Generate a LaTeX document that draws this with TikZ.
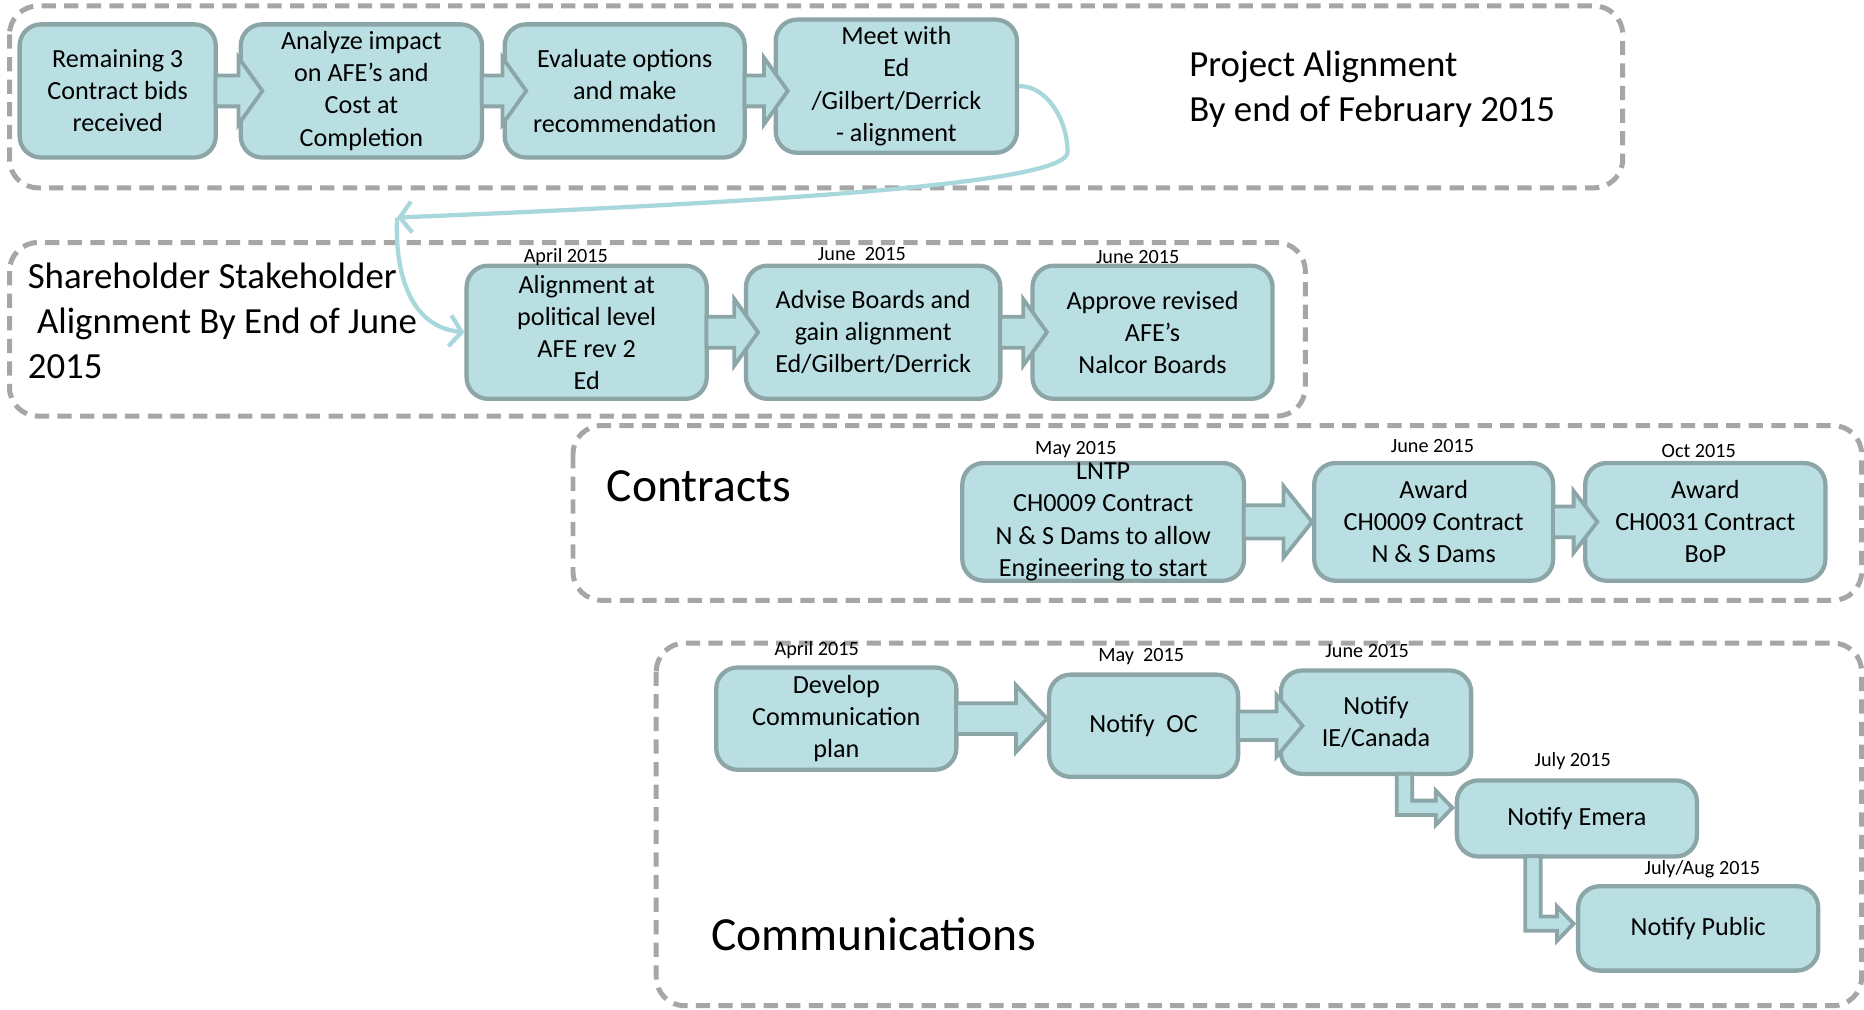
\documentclass[tikz,border=0pt]{standalone}
\usepackage{fontspec}
\setmainfont{Carlito}
\usetikzlibrary{arrows.meta,calc}
\definecolor{boxfill}{HTML}{B9DFE3}
\definecolor{boxline}{HTML}{8CA6A8}
\definecolor{linkcol}{HTML}{A9D8DC}
\definecolor{groupline}{HTML}{A6A6A6}

% wide outlined arrow from one box to the next
\newcommand{\blockarrow}[6]{%
  \path[blockarr] let \p1=(#1.east), \p2=(#2.west) in
    (\x1-1pt,\y1+#3) -- (\x2+#6-#5,\y1+#3) -- (\x2+#6-#5,\y1+#4)
    -- (\x2+#6,\y1) -- (\x2+#6-#5,\y1-#4) -- (\x2+#6-#5,\y1-#3)
    -- (\x1-1pt,\y1-#3) -- cycle;}
% down-and-right arrow
\newcommand{\bentarrow}[4]{%
  \path[blockarr] let \p1=($(#1.south)+(#3,0)$), \p2=($(#2.west)+(0,#4)$) in
    (\x1-3.25pt,\y1+1pt) -- (\x1-3.25pt,\y2-3pt) -- (\x2-8pt,\y2-3pt) -- (\x2-8pt,\y2-7.25pt)
    -- (\x2-1pt,\y2) -- (\x2-8pt,\y2+7.25pt) -- (\x2-8pt,\y2+3pt) -- (\x1+3.25pt,\y2+3pt)
    -- (\x1+3.25pt,\y1+1pt) -- cycle;}

\begin{document}
\begin{tikzpicture}[x=0.5pt,y=-0.5pt,
    box/.style={draw=boxline, fill=boxfill, line width=1.8pt, rounded corners=9pt,
      align=center, inner sep=0pt, font=\fontsize{11}{13.5}\selectfont},
    group/.style={draw=groupline, line width=2.1pt, dash pattern=on 6pt off 3.5pt,
      rounded corners=12pt},
    grouptitle/.style={anchor=west, align=left, inner sep=0pt,
      font=\fontsize{15.5}{19}\selectfont},
    bigtitle/.style={anchor=west, inner sep=0pt, font=\fontsize{20}{24}\selectfont},
    date/.style={inner sep=0pt, font=\fontsize{8.5}{10}\selectfont},
    blockarr/.style={draw=boxline, fill=boxfill, line width=1.6pt, line join=miter},
    link/.style={draw=linkcol, line width=1.8pt, -{Straight Barb[length=5pt,width=13pt]}}]
    \useasboundingbox (0,0) rectangle (1568,849);

    % dashed groups
    \draw[group] (8,5) rectangle (1365,158);
    \draw[group] (8,204) rectangle (1098,350);
    \draw[group] (482,358) rectangle (1566,505);
    \draw[group] (552,541) rectangle (1566,846);

    \node[grouptitle] (ptitle) at (1000,75) {Project Alignment\\By end of February 2015};
    \node[grouptitle] (stitle) at (23,270) {Shareholder Stakeholder\\\hspace*{0.25em}Alignment By End of June\\2015};
    \node[bigtitle] (ctitle) at (510,409) {Contracts};
    \node[bigtitle] (mtitle) at (598,786) {Communications};

    % project alignment
    \node[box, minimum width=82.5pt, minimum height=56pt] (bids) at (99,76.5) {Remaining 3\\Contract bids\\received};
    \node[box, minimum width=101.5pt, minimum height=56pt] (impact) at (304,76.5) {Analyze impact\\on AFE’s and\\Cost at\\Completion};
    \node[box, minimum width=101pt, minimum height=56pt] (options) at (525.5,76.5) {Evaluate options\\and make\\recommendation};
    \node[box, minimum width=101.5pt, minimum height=56pt] (meet) at (754,72.5) {Meet with\\Ed\\/Gilbert/Derrick\\- alignment};
    \blockarrow{bids}{impact}{6.5pt}{14pt}{10pt}{10pt}
    \blockarrow{impact}{options}{6.5pt}{14pt}{10pt}{10pt}
    \blockarrow{options}{meet}{6.5pt}{14pt}{10pt}{6pt}

    % shareholder alignment
    \node[box, minimum width=101pt, minimum height=56pt] (political) at (493.5,279.5) {Alignment at\\political level\\AFE rev 2\\Ed};
    \node[box, minimum width=107pt, minimum height=56pt] (advise) at (734.5,279.5) {Advise Boards and\\gain alignment\\Ed/Gilbert/Derrick};
    \node[box, minimum width=101pt, minimum height=56pt] (approve) at (969.5,279.5) {Approve revised\\AFE’s\\Nalcor Boards};
    \blockarrow{political}{advise}{6.5pt}{14pt}{10pt}{6pt}
    \blockarrow{advise}{approve}{6.5pt}{14pt}{10pt}{7pt}
    \node[date] (d1) at (476,216) {April 2015};
    \node[date] (d2) at (725,214) {June\ \ 2015};
    \node[date] (d3) at (957,216) {June 2015};

    % contracts
    \node[box, minimum width=118.5pt, minimum height=49.5pt] (lntp) at (928,439) {LNTP\\CH0009 Contract\\N \& S Dams to allow\\Engineering to start};
    \node[box, minimum width=100.5pt, minimum height=49.5pt] (award9) at (1206,439) {Award\\CH0009 Contract\\N \& S Dams};
    \node[box, minimum width=101pt, minimum height=49.5pt] (award31) at (1434.5,439) {Award\\CH0031 Contract\\BoP};
    \blockarrow{lntp}{award9}{7pt}{15pt}{12pt}{0pt}
    \blockarrow{award9}{award31}{6.5pt}{13pt}{10pt}{6pt}
    \node[date] (d4) at (905,378) {May 2015};
    \node[date] (d5) at (1205,375) {June 2015};
    \node[date] (d6) at (1429,379) {Oct 2015};

    % communications
    \node[box, minimum width=101pt, minimum height=43pt] (plan) at (703.5,604.5) {Develop\\Communication\\plan};
    \node[box, minimum width=79.5pt, minimum height=43pt] (oc) at (962,610.5) {Notify\ \ OC};
    \node[box, minimum width=80pt, minimum height=43.5pt] (canada) at (1157.5,607.5) {Notify\\IE/Canada};
    \node[box, minimum width=101pt, minimum height=32pt] (emera) at (1326.5,688.5) {Notify Emera};
    \node[box, minimum width=101pt, minimum height=35.5pt] (public) at (1428.5,781) {Notify Public};
    \blockarrow{plan}{oc}{6.5pt}{14pt}{13pt}{0pt}
    \blockarrow{oc}{canada}{6pt}{13pt}{11pt}{10pt}
    \bentarrow{canada}{emera}{24}{-9}
    \bentarrow{emera}{public}{-37}{-4}
    \node[date] (d7) at (687,547) {April 2015};
    \node[date] (d8) at (960,552) {May\ \ 2015};
    \node[date] (d9) at (1150,548) {June 2015};
    \node[date] (d10) at (1323,640) {July 2015};
    \node[date] (d11) at (1432,731) {July/Aug 2015};

    % link between the two alignment groups
    \coordinate (turn) at (334,183);
    \draw[link] (meet.east) .. controls (880,72) and (898,100) .. (898,128)
        .. controls (898,152) and (700,168) .. (turn);
    \draw[link] (turn) .. controls (332,230) and (345,275) .. (political.west);
\end{tikzpicture}
\end{document}
